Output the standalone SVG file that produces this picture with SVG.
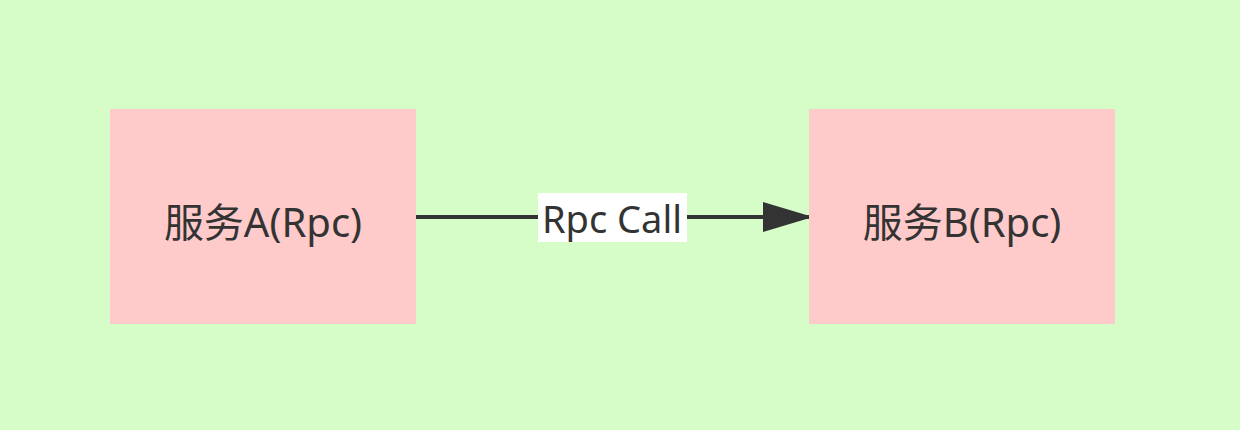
<svg xmlns="http://www.w3.org/2000/svg" width="1240" height="430" viewBox="0 0 1240 430">
<style>
.node{fill:#ffcaca}
.lbl{font-family:"Noto Sans","Noto Sans CJK SC",sans-serif;font-size:38px;fill:#333;text-anchor:middle;dominant-baseline:central}
.nlbl{font-size:40px}
.edge{stroke:#333;stroke-width:4;fill:none}
</style>
<defs>
<marker id="arr" markerUnits="userSpaceOnUse" markerWidth="50" markerHeight="30" refX="50" refY="15" orient="auto" viewBox="0 0 50 30">
<path d="M0,0 L50,15 L0,30 Z" fill="#333"/>
</marker>
</defs>
<rect width="1240" height="430" fill="#d6fdc8"/>
<g id="edges">
<line class="edge" x1="413" y1="217" x2="813" y2="217" marker-end="url(#arr)"/>
<rect x="538" y="193" width="149" height="49" fill="#fff"/>
<text class="lbl" x="612" y="218">Rpc Call</text>
</g>
<g id="nodeA">
<rect class="node" x="110" y="109" width="306" height="215"/>
<text class="lbl nlbl" x="263" y="221">服务A(Rpc)</text>
</g>
<g id="nodeB">
<rect class="node" x="809" y="109" width="306" height="215"/>
<text class="lbl nlbl" x="962" y="221">服务B(Rpc)</text>
</g>
</svg>
